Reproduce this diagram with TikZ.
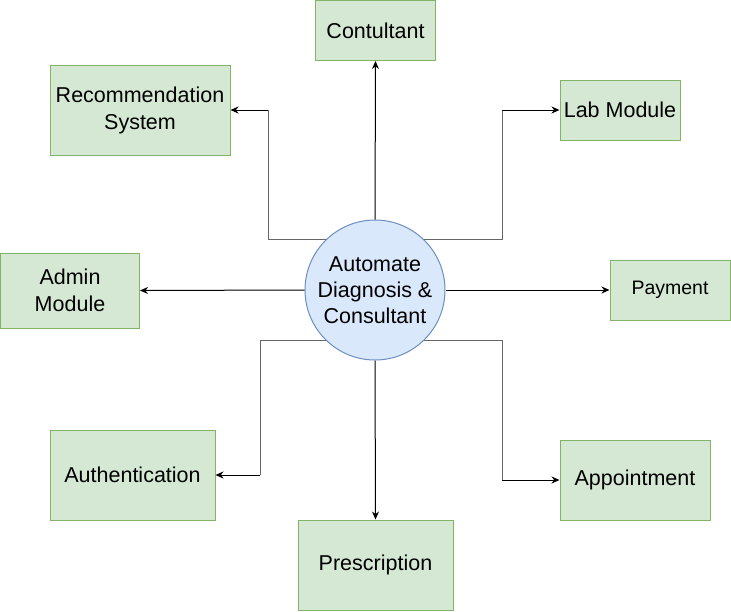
\documentclass[tikz,border=0pt]{standalone}
\usepackage{fontspec}
\setmainfont{Liberation Sans}
\usetikzlibrary{arrows.meta,calc}
\definecolor{boxfill}{HTML}{D5E8D4}
\definecolor{boxline}{HTML}{82B366}
\definecolor{circfill}{HTML}{DAE8FC}
\definecolor{circline}{HTML}{6C8EBF}
\definecolor{elbow}{HTML}{666666}
\begin{document}
\begin{tikzpicture}[x=1pt,y=-1pt,
  box/.style={draw=boxline,fill=boxfill,line width=1pt,inner sep=0pt,align=center,
    font=\fontsize{21.5}{27}\selectfont},
  hub/.style={circle,draw=circline,fill=circfill,line width=1pt,inner sep=0pt,
    minimum size=140pt,align=center,font=\fontsize{21.5}{26}\selectfont},
  conn/.style={line width=1pt,-{Stealth[length=8pt,width=7pt]}},
  grayline/.style={line width=1pt,draw=elbow}]
\useasboundingbox (0,0) rectangle (731,611);
\node[hub] (c) at (375,290) {Automate\\Diagnosis \&\\Consultant};
\node[box,minimum width=120pt,minimum height=60pt] (con) at (375.5,30.5) {Contultant};
\node[box,minimum width=180pt,minimum height=90pt] (rec) at (140,110) {Recommendation\\System};
\node[box,minimum width=120pt,minimum height=60pt] (lab) at (620,110) {Lab Module};
\node[box,minimum width=139pt,minimum height=75pt] (adm) at (70,290.5) {Admin\\Module};
\node[box,minimum width=120pt,minimum height=60pt,font=\fontsize{19.5}{24}\selectfont] (pay) at (670,290) {Payment};
\node[box,minimum width=165pt,minimum height=90pt] (aut) at (132.5,475) {Authentication};
\node[box,minimum width=150pt,minimum height=80pt] (app) at (635,480) {Appointment};
\node[box,minimum width=155pt,minimum height=90pt] (pre) at (375.5,565) {Prescription};
% elbow corners
\coordinate (kr) at (268,110);
\coordinate (kl) at (502,110);
\coordinate (ka) at (260,475);
\coordinate (kp) at (502,480);
% straight connectors
\draw[conn] (c.north) -- (con.south);
\draw[conn] (c.west) -- (adm.east);
\draw[conn] (c.east) -- (pay.west);
\draw[conn] (c.south) -- (pre.north);
% elbow connectors
\draw[grayline] (c.134) -| (kr);
\draw[conn] (kr) -- (rec.east);
\draw[grayline] (c.46) -| (kl);
\draw[conn] (kl) -- (lab.west);
\draw[grayline] (c.226) -| (ka);
\draw[conn] (ka) -- (aut.east);
\draw[grayline] (c.314) -| (kp);
\draw[conn] (kp) -- (app.west);
\end{tikzpicture}
\end{document}
